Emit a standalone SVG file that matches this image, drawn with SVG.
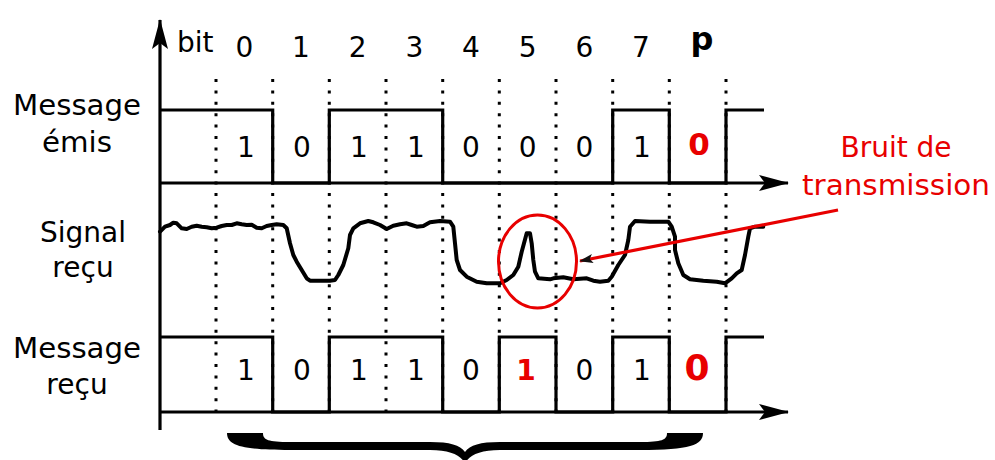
<svg xmlns="http://www.w3.org/2000/svg" width="995" height="460" viewBox="0 0 995 460">
<style>
text{font-family:"DejaVu Sans","Liberation Sans",sans-serif;fill:#000}
.lbl{font-size:28px;text-anchor:middle}
.num{font-size:28px;text-anchor:middle}
.val{font-size:28px;text-anchor:middle}
.red{fill:#e80000}
.bold{font-weight:bold}
.axis{stroke:#000;stroke-width:3.2;fill:none}
.wave{stroke:#000;stroke-width:3.2;fill:none;stroke-linejoin:miter}
.dot{stroke:#000;stroke-width:3;stroke-dasharray:3 8.4;fill:none}
.sig{stroke:#000;stroke-width:4;fill:none;stroke-linejoin:round;stroke-linecap:round}
</style>
<defs>
<marker id="ah" viewBox="0 0 30 16" refX="29" refY="8" markerWidth="30" markerHeight="16" markerUnits="userSpaceOnUse" orient="auto">
<path d="M0,0 L30,8 L0,16 L6,8 Z" fill="#000"/>
</marker>
<marker id="rh" viewBox="0 0 14 9" refX="13" refY="4.5" markerWidth="14" markerHeight="9" markerUnits="userSpaceOnUse" orient="auto">
<path d="M0,0 L14,4.5 L0,9 L3,4.5 Z" fill="#111"/>
</marker>
</defs>

<g id="grid">
<path class="dot" d="M216,79V412 M272.7,79V412 M329.3,79V412 M386,79V412 M442.7,79V412 M499.3,79V412 M556,79V412 M612.7,79V412 M669.3,79V412 M726,79V412"/>
</g>

<g id="axes">
<path class="axis" d="M160,430V20" marker-end="url(#ah)"/>
<path class="axis" d="M160,183H788" marker-end="url(#ah)"/>
<path class="axis" d="M160,412H788" marker-end="url(#ah)"/>
</g>

<g id="header">
<text x="177" y="52" style="font-size:28px">bit</text>
<text class="num" x="244.3" y="57">0</text>
<text class="num" x="301" y="57">1</text>
<text class="num" x="357.7" y="57">2</text>
<text class="num" x="414.3" y="57">3</text>
<text class="num" x="471" y="57">4</text>
<text class="num" x="527.7" y="57">5</text>
<text class="num" x="584.3" y="57">6</text>
<text class="num" x="641" y="57">7</text>
<text class="bold" x="702" y="50" style="font-size:32px;text-anchor:middle">p</text>
</g>

<g id="row-emis">
<text class="lbl" x="77" y="115" textLength="128" lengthAdjust="spacingAndGlyphs">Message</text>
<text class="lbl" x="77" y="152" textLength="70" lengthAdjust="spacingAndGlyphs">émis</text>
<path class="wave" d="M160,110H272.7V183H329.3V110H442.7V183H612.7V110H669.3V183H726V110H764"/>
<text class="val" x="246" y="157">1</text>
<text class="val" x="302" y="157">0</text>
<text class="val" x="359" y="157">1</text>
<text class="val" x="416" y="157">1</text>
<text class="val" x="471" y="157">0</text>
<text class="val" x="527.7" y="157">0</text>
<text class="val" x="584.3" y="157">0</text>
<text class="val" x="642" y="157">1</text>
<text class="val red bold" x="699" y="155" style="font-size:31px">0</text>
</g>

<g id="row-signal">
<text class="lbl" x="83" y="242">Signal</text>
<text class="lbl" x="83" y="277">reçu</text>
<path class="sig" d="M160,231.7 L165,226.7 L170,225 L173.3,222.7 L176.7,223.3 L181.7,228.3 L186.7,229 L191.7,226.7 L196.7,225.7 L201.7,226.7 L206.7,227.3 L211.7,228.3 L216.7,227.7 L221.7,226 L226.7,225 L231.7,225 L236.7,223.3 L241.7,224.3 L246.7,225 L251.7,224.7 L256.7,227.7 L261.7,228.3 L266.7,226 L271.7,225 L276.7,224.3 L283.3,225 L286.7,228.3 L290,243.3 L293.3,255 L296.7,261.7 L301.7,270 L306.7,278.3 L310,280.7 L330,280.7 L335,280 L338.3,275 L343.3,265 L348.3,248.3 L350,235 L353.3,228.3 L360,223.3 L368.3,221 L373.3,222.3 L380,225 L386.7,229 L393.3,225.7 L400,224.3 L406.7,223.3 L411.7,225 L416.7,226.7 L423.3,226 L430,222.3 L440,221 L450,221.7 L453.3,226.7 L455,243.3 L456.7,260 L460,270 L466.7,276.7 L476.7,281.7 L486.7,283.3 L500,283.3 L506.7,280 L513.3,275 L518.3,266.7 L521.7,251.7 L526.7,233.3 L530,233.3 L531.7,243.3 L533.3,260 L535,271.7 L538.3,278.3 L550,279.3 L553.3,278.3 L563.3,277.3 L573.3,279.3 L586.7,278.3 L593.3,280.7 L600,281.7 L608.3,280.7 L611.7,276.7 L618.3,265 L625,255 L628.3,240 L630,226.7 L635,221 L650,221.7 L668.3,221.7 L671.7,226.7 L675,236.7 L675,250 L678.3,263.3 L683.3,275 L690,279.3 L703.3,280.7 L716.7,281.7 L725,283.3 L731.7,278.3 L736.7,273.3 L741.7,270 L745,255 L748.3,236.7 L750,228.3 L755,226.7 L763.3,226.7"/>
</g>

<g id="row-recu">
<text class="lbl" x="77" y="358" textLength="128" lengthAdjust="spacingAndGlyphs">Message</text>
<text class="lbl" x="77" y="394">reçu</text>
<path class="wave" d="M160,337H272.7V412H329.3V337H442.7V412H499.3V337H556V412H612.7V337H669.3V412H726V337H764"/>
<text class="val" x="246" y="380">1</text>
<text class="val" x="302" y="380">0</text>
<text class="val" x="359" y="380">1</text>
<text class="val" x="416" y="380">1</text>
<text class="val" x="471" y="380">0</text>
<text class="val red bold" x="526" y="380">1</text>
<text class="val" x="584.3" y="380">0</text>
<text class="val" x="642" y="380">1</text>
<text class="val red bold" x="697" y="380" style="font-size:36px">0</text>
</g>

<g id="noise-annotation">
<ellipse cx="537.5" cy="261.5" rx="39" ry="46.5" fill="none" stroke="#e80000" stroke-width="3"/>
<text class="lbl red" x="896" y="157" style="font-size:28px">Bruit de</text>
<text class="lbl red" x="896" y="195" style="font-size:28px" textLength="188" lengthAdjust="spacingAndGlyphs">transmission</text>
</g>

<g id="connectors">
<path d="M838,210 L580,261" stroke="#e80000" stroke-width="3.2" fill="none" marker-end="url(#rh)"/>
</g>

<g id="brace">
<path fill="#000" d="M227,433 L263,433 C263,440 268,442 290,442 L430,442 C450,442 460,445 465,452 C470,445 480,442 500,442 L640,442 C662,442 667,440 667,433 L703,433 C703,445 690,450 640,450 L500,450 C480,450 470,455 465,463 C460,455 450,450 430,450 L290,450 C240,450 227,445 227,433 Z"/>
</g>
</svg>
